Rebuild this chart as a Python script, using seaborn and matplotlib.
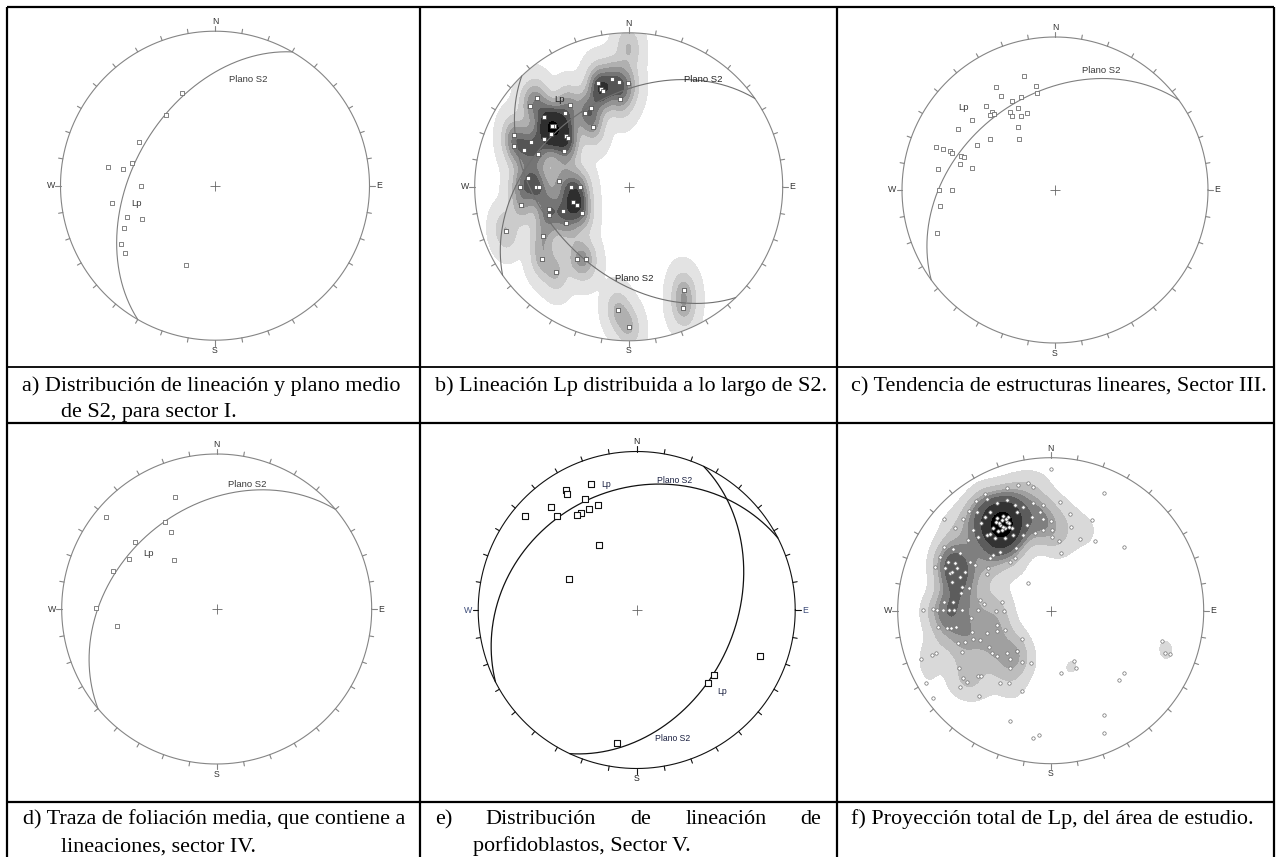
import numpy as np
import pandas as pd
import matplotlib
matplotlib.use("Agg")
import matplotlib.pyplot as plt
import seaborn as sns
from matplotlib.patches import Circle
from matplotlib.colors import ListedColormap, BoundaryNorm
from matplotlib.contour import ContourSet

# ---------------- data (unit-circle coordinates: x = East, y = North) ----------------
a_x = [-0.215, -0.318, -0.495, -0.695, -0.596, -0.535, -0.480, -0.667, -0.568, -0.473, -0.587, -0.609, -0.583, -0.189]
a_y = [0.600, 0.456, 0.284, 0.123, 0.108, 0.144, 0.000, -0.114, -0.202, -0.217, -0.271, -0.376, -0.437, -0.516]
a_planes = [(300, 46)]            # (dip direction, dip)

b_x = [-0.199, -0.106, -0.065, -0.002, -0.182, -0.167, -0.054,
       -0.593, -0.639, -0.379, -0.416, -0.552, -0.281, -0.242, -0.487, -0.487, -0.495, -0.502, -0.550,
       -0.405, -0.392, -0.232, -0.418, -0.591, -0.632, -0.680, -0.742, -0.742,
       -0.452, -0.372, -0.314, -0.656, -0.703, -0.604, -0.584, -0.361, -0.335, -0.426, -0.519, -0.519,
       -0.305, -0.407, -0.697, -0.799, -0.556, -0.565, -0.335, -0.277, -0.474,
       -0.071, 0.000, 0.361, 0.353]
b_y = [0.671, 0.699, 0.680, 0.671, 0.632, 0.621, 0.569,
       0.576, 0.526, 0.528, 0.481, 0.450, 0.481, 0.509, 0.398, 0.398, 0.392, 0.340, 0.310,
       0.331, 0.318, 0.390, 0.234, 0.212, 0.288, 0.240, 0.338, 0.264,
       0.039, 0.000, 0.000, 0.054, 0.000, 0.000, 0.000, -0.097, -0.119, -0.156, -0.141, -0.182,
       -0.169, -0.234, -0.121, -0.286, -0.320, -0.468, -0.468, -0.468, -0.552,
       -0.800, -0.909, -0.671, -0.790]
b_planes = [(325, 42), (226, 45)]

c_x = [-0.201, -0.387, -0.125, -0.116, -0.354, -0.278, -0.223, -0.453, -0.414, -0.400, -0.427, -0.291,
       -0.278, -0.243, -0.225, -0.186, -0.545, -0.632, -0.239, -0.234, -0.427, -0.508, -0.775, -0.729,
       -0.689, -0.672, -0.617, -0.595, -0.624, -0.540, -0.764, -0.672, -0.759, -0.751, -0.768]
c_y = [0.748, 0.674, 0.683, 0.635, 0.613, 0.584, 0.608, 0.547, 0.510, 0.497, 0.492, 0.508,
       0.486, 0.534, 0.481, 0.503, 0.455, 0.398, 0.409, 0.335, 0.333, 0.291, 0.284, 0.269,
       0.252, 0.245, 0.223, 0.214, 0.168, 0.144, 0.136, 0.000, 0.000, -0.105, -0.278]
c_planes = [(324, 38)]

d_x = [-0.269, -0.714, -0.333, -0.295, -0.527, -0.563, -0.275, -0.671, -0.778, -0.641]
d_y = [0.720, 0.591, 0.563, 0.499, 0.430, 0.320, 0.316, 0.245, 0.004, -0.110]
d_planes = [(320, 35)]

e_x = [-0.289, -0.443, -0.439, -0.707, -0.542, -0.500, -0.329, -0.243, -0.302, -0.354, -0.378,
       -0.238, -0.424, 0.781, 0.485, 0.447, -0.122]
e_y = [0.797, 0.759, 0.734, 0.595, 0.650, 0.591, 0.700, 0.665, 0.637, 0.612, 0.601,
       0.407, 0.198, -0.289, -0.411, -0.458, -0.838]
e_planes = [(333, 25), (115, 38)]

f_x = [0.350, 0.128, 0.268, 0.131, 0.192, 0.290, 0.056, 0.477, 0.069, -0.150, -0.320, -0.358, -0.303,
       0.727, 0.749, 0.780, -0.190, -0.220, -0.190, -0.129, -0.266, 0.150, 0.167, 0.069, 0.477, 0.444,
       -0.329, -0.271, -0.190, -0.467, -0.815, -0.771, 0.350, -0.264, 0.350, -0.118, -0.075,
       0.000, 0.007, -0.288, -0.216, -0.146, -0.113, 0.061, -0.048, -0.052, 0.004, 0.007,
       -0.429, -0.418, -0.488, -0.534, -0.571, -0.695, -0.625, -0.695, -0.636, -0.723, -0.756, -0.532,
       -0.647, -0.586, -0.695, -0.636, -0.832, -0.771, -0.741, -0.702, -0.662, -0.632, -0.582, -0.521,
       -0.473, -0.462, -0.436, -0.734, -0.680, -0.654, -0.621, -0.516, -0.462, -0.418, -0.353, -0.353,
       -0.298, -0.603, -0.560, -0.510, -0.582, -0.401, -0.386, -0.353, -0.288, -0.266, -0.222,
       -0.778, -0.752, -0.850, -0.597, -0.473, -0.455, -0.575, -0.549, -0.593,
       -0.233, -0.266, -0.407, -0.414, -0.397, -0.495, -0.527, -0.593, -0.538, -0.473, -0.418, -0.364,
       -0.298, -0.244, -0.179, -0.102, -0.048, -0.227, -0.331, -0.375,
       -0.353, -0.320, -0.288, -0.331, -0.298, -0.270, -0.251, -0.375, -0.342, -0.309, -0.277, -0.458,
       -0.429, -0.397, -0.397, -0.222, -0.179, -0.113, -0.233, -0.288, -0.353, -0.484, -0.505, -0.157,
       -0.124, -0.070, -0.340, -0.310, -0.290, -0.360, -0.320, -0.270,
       -0.691, -0.658, -0.614, -0.593, -0.647, -0.669, -0.625, -0.582, -0.560]
f_y = [0.767, 0.632, 0.593, 0.545, 0.467, 0.458, 0.458, 0.414, 0.375, 0.183, 0.057, 0.000, 0.000,
       -0.196, -0.278, -0.285, -0.187, -0.263, -0.337, -0.344, -0.373, -0.329, -0.376, -0.405, -0.409, -0.453,
       -0.471, -0.471, -0.525, -0.558, -0.471, -0.569, -0.682, -0.721, -0.797, -0.834, -0.812,
       0.924, 0.484, 0.800, 0.821, 0.837, 0.810, 0.708, 0.691, 0.597, 0.584, 0.527,
       0.760, 0.728, 0.719, 0.651, 0.597, 0.597, 0.538, 0.414, 0.401, 0.349, 0.288, 0.150,
       0.190, 0.113, 0.059, 0.059, 0.004, 0.009, 0.004, 0.004, 0.004, 0.004, 0.004, -0.050,
       0.004, 0.070, 0.044, -0.109, -0.115, -0.115, -0.109, -0.142, -0.192, -0.148, -0.094, -0.131,
       -0.126, -0.214, -0.203, -0.185, -0.268, -0.235, -0.279, -0.296, -0.279, -0.318, -0.261,
       -0.290, -0.279, -0.316, -0.377, -0.427, -0.427, -0.442, -0.464, -0.497,
       0.342, 0.320, 0.277, 0.240, 0.342, 0.298, 0.320, 0.375, 0.462, 0.484, 0.495, 0.473,
       0.473, 0.495, 0.495, 0.505, 0.527, 0.407, 0.386, 0.364,
       0.603, 0.593, 0.582, 0.560, 0.538, 0.571, 0.538, 0.538, 0.521, 0.619, 0.614, 0.571,
       0.614, 0.647, 0.499, 0.647, 0.680, 0.702, 0.691, 0.723, 0.702, 0.647, 0.527, 0.560,
       0.614, 0.647, 0.570, 0.550, 0.600, 0.580, 0.530, 0.550,
       0.277, 0.244, 0.277, 0.222, 0.255, 0.320, 0.309, 0.157, 0.255]

captions = {
    "a": ["a) Distribución de lineación y plano medio", "de S2, para sector I."],
    "b": ["b) Lineación Lp distribuida a lo largo de S2."],
    "c": ["c) Tendencia de estructuras lineares, Sector III."],
    "d": ["d) Traza de foliación media, que contiene a", "lineaciones, sector IV."],
    "e": [["e)", "Distribución", "de", "lineación", "de"], "porfidoblastos, Sector V."],
    "f": ["f) Proyección total de Lp, del área de estudio."],
}

# ---------------- layout ----------------
W, H = 1276, 857
sns.set_theme(style="white")
plt.rcParams["font.family"] = ["Liberation Sans", "DejaVu Sans"]
SERIF = ["Liberation Serif", "DejaVu Serif"]
CAP_FS = 15.9

fig = plt.figure(figsize=(W / 100, H / 100), dpi=100)
bg = fig.add_axes([0, 0, 1, 1])
bg.set_xlim(0, W)
bg.set_ylim(H, 0)
bg.axis("off")

# table rules
LW = 1.6
for x in (6.5, 420, 836.5, 1274):
    bg.plot([x, x], [6.5, H], color="black", lw=LW, solid_capstyle="butt")
for y, lw in ((6.5, LW), (367, 1.3), (422.5, LW), (802, LW)):
    bg.plot([6.5, 1274], [y, y], color="black", lw=lw, solid_capstyle="butt")


def great_circle(dipdir, dip, n=361):
    th = np.linspace(dipdir - 90, dipdir + 90, n)
    pl = np.degrees(np.arctan(np.tan(np.radians(dip)) * np.cos(np.radians(th - dipdir))))
    r = np.sqrt(2) * np.sin(np.radians(90 - pl) / 2)
    return r * np.sin(np.radians(th)), r * np.cos(np.radians(th))


def stereonet(cx, cy, r, color="#858585", lcolor="#333333", wecolor=None, L=1.14):
    size = 2 * L * r
    ax = fig.add_axes([(cx - L * r) / W, 1 - (cy + L * r) / H, size / W, size / H])
    ax.patch.set_visible(False)
    ax.axis("off")
    t = np.linspace(0, 2 * np.pi, 721)
    ax.plot(np.cos(t), np.sin(t), color=color, lw=0.8, zorder=3)
    for az in range(0, 360, 10):
        s, c = np.sin(np.radians(az)), np.cos(np.radians(az))
        ext = 1.035 if az % 90 == 0 else 1.028
        ax.plot([s, ext * s], [c, ext * c], color=color, lw=0.8, zorder=3)
    kw = dict(fontsize=6.3, ha="center", va="center", zorder=5)
    ax.text(0, 1.062, "N", color=lcolor, **kw)
    ax.text(0, -1.066, "S", color=lcolor, **kw)
    ax.text(-1.062, 0, "W", color=wecolor or lcolor, **kw)
    ax.text(1.062, 0, "E", color=wecolor or lcolor, **kw)
    ax.plot([0], [0], marker="+", ms=7, mew=0.6, color="#666666", zorder=4)
    return ax


def finish(ax, L=1.14):
    ax.set_xlim(-L, L)
    ax.set_ylim(-L, L)
    ax.set_xlabel("")
    ax.set_ylabel("")
    ax.axis("off")


def planes(ax, pl, color="#808080", lw=0.8):
    for dd, dip in pl:
        gx, gy = great_circle(dd, dip)
        ax.plot(gx, gy, color=color, lw=lw, zorder=3)


def density(ax, xs, ys, levels, colors, bw):
    df = pd.DataFrame({"east": np.asarray(xs, float), "north": np.asarray(ys, float)})
    n0 = len(ax.collections)
    sns.kdeplot(data=df, x="east", y="north", ax=ax, fill=True, levels=levels,
                cmap="Greys", bw_method=bw, gridsize=240,
                clip=((-1.2, 1.2), (-1.2, 1.2)))
    circ = Circle((0, 0), 1.0, transform=ax.transData)
    for coll in ax.collections[n0:]:
        if isinstance(coll, ContourSet):
            lv = np.asarray(coll.levels, float)
            coll.set_cmap(ListedColormap(colors[:len(lv) - 1]))
            coll.set_norm(BoundaryNorm(lv, len(lv) - 1))
        coll.set_clip_path(circ)
        coll.set_zorder(1)


def labels(ax, items, fs=6.8, color="#3a3a3a"):
    for s, x, y in items:
        ax.text(x, y, s, fontsize=fs, color=color, ha="center", va="center", zorder=6)


# ---- a ----
ax = stereonet(215, 185.7, 154.5)
planes(ax, a_planes)
sns.scatterplot(x=a_x, y=a_y, ax=ax, marker="s", s=5, facecolor="white",
                edgecolor="#707070", linewidth=0.6, zorder=5, legend=False)
labels(ax, [("Plano S2", 0.217, 0.686), ("Lp", -0.508, -0.118)])
finish(ax)

# ---- b ----
ax = stereonet(628.7, 186.8, 154)
bx, by = np.array(b_x), np.array(b_y)
rr = np.hypot(bx, by)
wrap = rr > 0.88         # wrap-around of points lying close to the primitive
kx = np.concatenate([bx, -bx[wrap]])
ky = np.concatenate([by, -by[wrap]])
density(ax, kx, ky, [0.006, 0.08, 0.22, 0.38, 0.55, 0.72, 0.88, 0.985, 1.0],
        ["#e3e3e3", "#cbcbcb", "#b0b0b0", "#939393", "#757575", "#555555", "#2e2e2e", "#000000"], 0.2)
planes(ax, b_planes, color="#707070")
sns.scatterplot(x=b_x, y=b_y, ax=ax, marker="s", s=5, facecolor="white",
                edgecolor="#404040", linewidth=0.5, zorder=5, legend=False)
labels(ax, [("Plano S2", 0.481, 0.699), ("Lp", -0.452, 0.567), ("Plano S2", 0.037, -0.595)], color="#222222")
finish(ax)

# ---- c ----
ax = stereonet(1055, 190, 153)
planes(ax, c_planes)
sns.scatterplot(x=c_x, y=c_y, ax=ax, marker="s", s=5, facecolor="white",
                edgecolor="#707070", linewidth=0.6, zorder=5, legend=False)
labels(ax, [("Plano S2", 0.300, 0.783), ("Lp", -0.600, 0.536)])
finish(ax)

# ---- d ----
ax = stereonet(216.7, 609, 155)
planes(ax, d_planes)
sns.scatterplot(x=d_x, y=d_y, ax=ax, marker="s", s=5, facecolor="white",
                edgecolor="#707070", linewidth=0.6, zorder=5, legend=False)
labels(ax, [("Plano S2", 0.197, 0.806), ("Lp", -0.437, 0.355)])
finish(ax)

# ---- e ----
ax = stereonet(636.7, 610, 158.5, color="#111111", lcolor="#222222", wecolor="#3b4a78")
planes(ax, e_planes, color="#111111", lw=0.9)
sns.scatterplot(x=e_x, y=e_y, ax=ax, marker="s", s=16, facecolor="white",
                edgecolor="#111111", linewidth=0.8, zorder=5, legend=False)
labels(ax, [("Lp", -0.194, 0.791), ("Plano S2", 0.237, 0.815), ("Lp", 0.538, -0.513),
            ("Plano S2", 0.228, -0.812)], fs=6.2, color="#1a2040")
finish(ax)

# ---- f ----
ax = stereonet(1050.7, 610.7, 153)
density(ax, f_x, f_y, [0.19, 0.34, 0.5, 0.64, 0.77, 0.88, 0.96, 1.0],
        ["#d9d9d9", "#bdbdbd", "#a0a0a0", "#7f7f7f", "#5c5c5c", "#333333", "#000000"], 0.24)
sns.scatterplot(x=f_x, y=f_y, ax=ax, marker="o", s=6, facecolor="white",
                edgecolor="#707070", linewidth=0.5, zorder=5, legend=False)
finish(ax)

# ---------------- captions ----------------
ckw = dict(fontsize=CAP_FS, family=SERIF, va="baseline", ha="left", color="black")
bg.text(22, 391, captions["a"][0], **ckw)
bg.text(61, 417, captions["a"][1], **ckw)
bg.text(435, 391, captions["b"][0], **ckw)
bg.text(851, 391, captions["c"][0], **ckw)
bg.text(22.7, 824, captions["d"][0], **ckw)
bg.text(60.7, 851.5, captions["d"][1], **ckw)
for word, x in zip(captions["e"][0], (435, 485, 630.7, 685.7, 800)):
    bg.text(x, 824, word, **ckw)
bg.text(473.3, 851.5, captions["e"][1], **ckw)
bg.text(851, 824, captions["f"][0], **ckw)

fig.savefig("out.png", dpi=100)
